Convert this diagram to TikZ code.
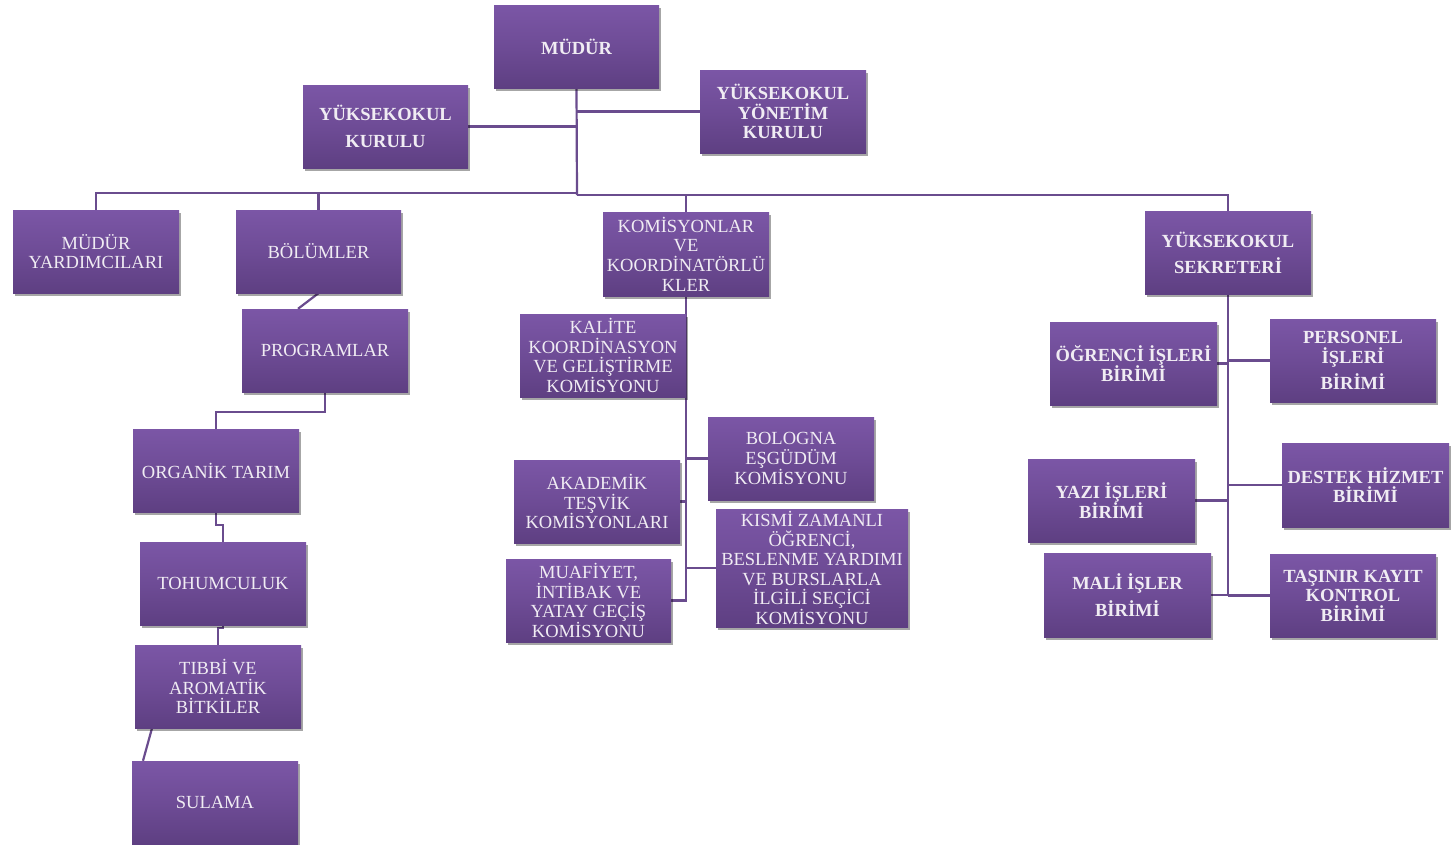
\documentclass[tikz,border=0pt]{standalone}
\usepackage{fontspec}
\setmainfont{Liberation Serif}
\usetikzlibrary{shadows,backgrounds}
\definecolor{boxtop}{HTML}{7B56A6}
\definecolor{boxbot}{HTML}{5E3F82}
\definecolor{linecol}{HTML}{6A4C8E}
\definecolor{txtcol}{HTML}{F0ECF3}
\tikzset{
  orgbox/.style={rectangle, inner sep=0pt, minimum width=166pt, minimum height=83pt,
    top color=boxtop, bottom color=boxbot, middle color=boxtop!55!boxbot,
    draw=none, align=center, text=txtcol,
    font=\fontsize{18.5}{19.6}\selectfont,
    drop shadow={shadow xshift=1.5pt, shadow yshift=-3pt, opacity=0.35, fill=black}},
  bbox/.style={orgbox, font=\fontsize{18.5}{19.6}\selectfont\bfseries},
  conn/.style={draw=linecol, line width=2.2pt}
}
\begin{document}
\begin{tikzpicture}[x=1pt,y=-1pt]
\useasboundingbox (0,0) rectangle (1452,844);
% top level
\node[bbox, minimum width=165pt] (mudur) at (576.5,46.5) {MÜDÜR};
\node[bbox, minimum width=165pt] (kurulu) at (385.5,126.5) {YÜKSEKOKUL\\[7pt]KURULU};
\node[bbox] (yonetim) at (783,111.5) {YÜKSEKOKUL\\YÖNETİM\\KURULU};
% second level
\node[orgbox] (myard) at (96,251.5) {MÜDÜR\\YARDIMCILARI};
\node[orgbox, minimum width=165pt] (bolum) at (318.5,251.5) {BÖLÜMLER};
\node[orgbox, minimum height=84pt] (komis) at (686,254) {KOMİSYONLAR\\VE\\KOORDİNATÖRLÜ\\KLER};
\node[bbox] (sekr) at (1228,252.5) {YÜKSEKOKUL\\[6.5pt]SEKRETERİ};
% programs
\node[orgbox] (prog) at (325,350.5) {PROGRAMLAR};
\node[orgbox] (organik) at (216,470.5) {ORGANİK TARIM};
\node[orgbox] (tohum) at (223,583.5) {TOHUMCULUK};
\node[orgbox] (tibbi) at (218,686.5) {TIBBİ VE\\AROMATİK\\BİTKİLER};
\node[orgbox] (sulama) at (215,802.5) {SULAMA};
% commissions
\node[orgbox] (kalite) at (603,355.5) {KALİTE\\KOORDİNASYON\\VE GELİŞTİRME\\KOMİSYONU};
\node[orgbox] (bologna) at (791,458.5) {BOLOGNA\\EŞGÜDÜM\\KOMİSYONU};
\node[orgbox] (akad) at (597,501.5) {AKADEMİK\\TEŞVİK\\KOMİSYONLARI};
\node[orgbox, minimum width=192pt, minimum height=118pt] (kismi) at (812,568) {KISMİ ZAMANLI\\ÖĞRENCİ,\\BESLENME YARDIMI\\VE BURSLARLA\\İLGİLİ SEÇİCİ\\KOMİSYONU};
\node[orgbox, minimum width=165pt] (muaf) at (588.5,600.5) {MUAFİYET,\\İNTİBAK VE\\YATAY GEÇİŞ\\KOMİSYONU};
% secretary units
\node[bbox, minimum width=167pt] (ogrenci) at (1133.5,363.5) {ÖĞRENCİ İŞLERİ\\BİRİMİ};
\node[bbox] (personel) at (1353,360.5) {PERSONEL\\İŞLERİ\\[6pt]BİRİMİ};
\node[bbox, minimum width=167pt] (yazi) at (1111.5,500.5) {YAZI İŞLERİ\\BİRİMİ};
\node[bbox, minimum width=167pt, minimum height=84pt] (destek) at (1365.5,485) {DESTEK HİZMET\\BİRİMİ};
\node[bbox, minimum width=167pt, minimum height=84pt] (mali) at (1127.5,595) {MALİ İŞLER\\[6pt]BİRİMİ};
\node[bbox] (tasinir) at (1353,595.5) {TAŞINIR KAYIT\\KONTROL\\BİRİMİ};
% connectors
\begin{scope}[on background layer]
\fill[white] (0,0) rectangle (1452,844);
\coordinate (busL) at (577,193);
\coordinate (busR) at (577,195);
\draw[conn] (mudur.south) -- (busR);
\draw[conn] (kurulu.east) -- (kurulu.east -| mudur.south);
\draw[conn] (yonetim.west) -- (yonetim.west -| mudur.south);
\draw[conn] (busL) -| (myard.north);
\draw[conn] (busL) -| (bolum.north);
\draw[conn] (busR) -| (komis.north);
\draw[conn] (busR) -| (sekr.north);
\draw[conn] (bolum.south) -- ([xshift=-27pt]prog.north);
\draw[conn] (prog.south) -- ++(0,19.5) -| (organik.north);
\draw[conn] (organik.south) -- ++(0,13) -| (tohum.north);
\draw[conn] (tohum.south) -- ++(0,3) -| (tibbi.north);
\draw[conn] ([xshift=-66pt]tibbi.south) -- ([xshift=-72pt]sulama.north);
\draw[conn] (komis.south) |- (muaf.east);
\draw[conn] (bologna.west) -- (bologna.west -| komis.south);
\draw[conn] (akad.east) -- (akad.east -| komis.south);
\draw[conn] (kismi.west) -- (kismi.west -| komis.south);
\draw[conn] (sekr.south) |- (mali.east);
\draw[conn] (tasinir.west) -- (tasinir.west -| sekr.south);
\draw[conn] (ogrenci.east) -- (ogrenci.east -| sekr.south);
\draw[conn] (personel.west) -- (personel.west -| sekr.south);
\draw[conn] (yazi.east) -- (yazi.east -| sekr.south);
\draw[conn] (destek.west) -- (destek.west -| sekr.south);
\end{scope}
\end{tikzpicture}
\end{document}
